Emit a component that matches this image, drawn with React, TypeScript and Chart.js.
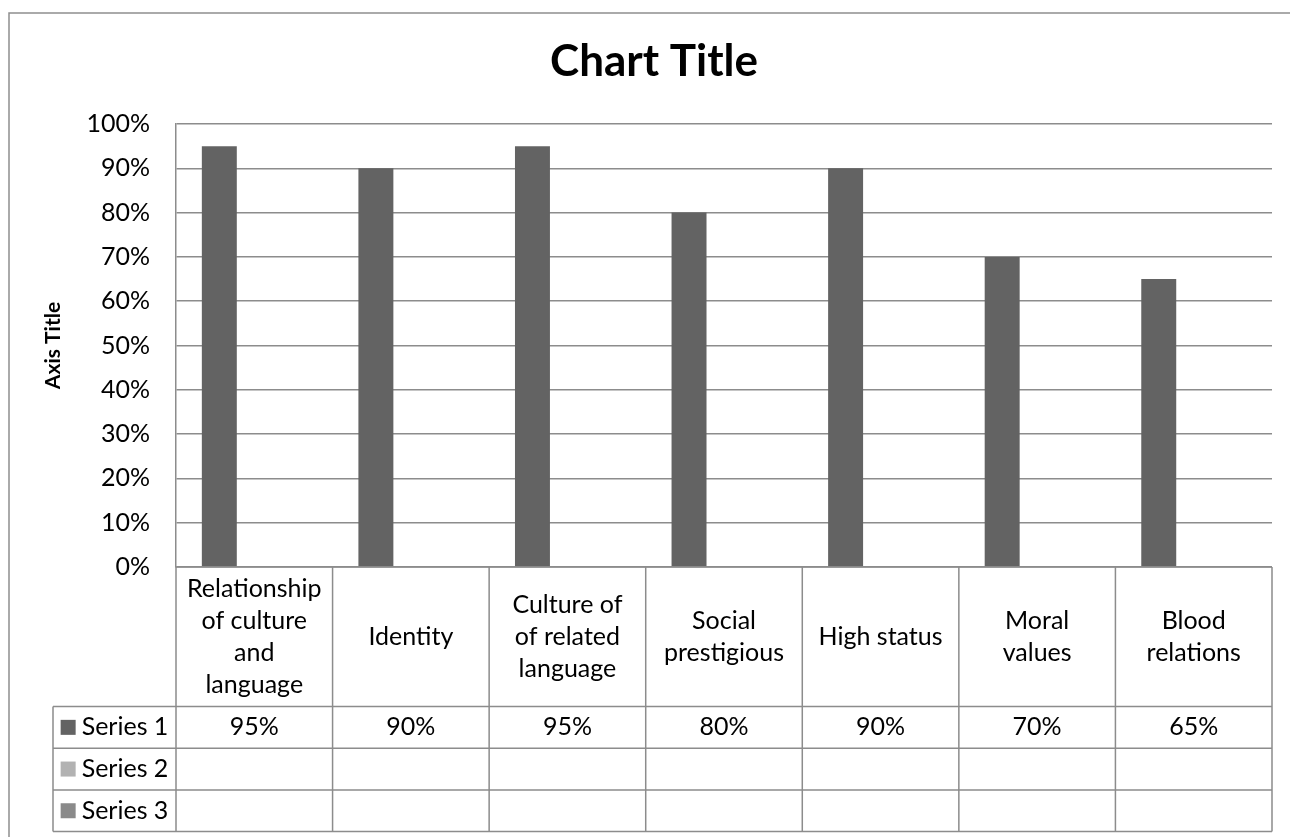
import React, { useEffect, useRef } from "react";
import { Chart, registerables } from "chart.js";

Chart.register(...registerables);

// ---- data ----
const categories: string[][] = [
  ["Relationship", "of culture", "and", "language"],
  ["Identity"],
  ["Culture of", "of related", "language"],
  ["Social", "prestigious"],
  ["High status"],
  ["Moral", "values"],
  ["Blood", "relations"],
];
const seriesNames: string[] = ["Series 1", "Series 2", "Series 3"];
const series1: (number | null)[] = [0.95, 0.9, 0.95, 0.8, 0.9, 0.7, 0.65];
const series2: (number | null)[] = [null, null, null, null, null, null, null];
const series3: (number | null)[] = [null, null, null, null, null, null, null];
const yTickLabels: string[] = ["0%", "10%", "20%", "30%", "40%", "50%", "60%", "70%", "80%", "90%", "100%"];

// ---- styles ----
const FONT = "Lato, 'Open Sans', sans-serif";
const GRID = "#8c8c8c";
const COLORS = ["#636363", "#b2b2b2", "#8a8a8a"];
const BODY_SIZE = 25;
const PAD_LEFT = 36;

const fmtPct = (v: number | null) => (v == null ? "" : Math.round(v * 100) + "%");

const tablePlugin = {
  id: "dataTable",
  afterDraw(chart: any) {
    const ctx: CanvasRenderingContext2D = chart.ctx;
    const area = chart.chartArea;
    const xs = chart.scales.x;
    const n = categories.length;
    const colW = (area.right - area.left) / n;
    const legendLeft = 53;
    const catH = 139.5;
    const rowH = 41.7;
    const r0 = area.bottom;
    const rows = [r0, r0 + catH, r0 + catH + rowH, r0 + catH + 2 * rowH, r0 + catH + 3 * rowH];
    const datasets = chart.data.datasets;

    ctx.save();
    ctx.strokeStyle = GRID;
    ctx.lineWidth = 1.5;
    ctx.beginPath();
    ctx.moveTo(area.left, rows[0]);
    ctx.lineTo(area.right, rows[0]);
    for (let r = 1; r < rows.length; r++) {
      ctx.moveTo(legendLeft, rows[r]);
      ctx.lineTo(area.right, rows[r]);
    }
    for (let i = 0; i <= n; i++) {
      const x = area.left + i * colW;
      ctx.moveTo(x, rows[0]);
      ctx.lineTo(x, rows[4]);
    }
    ctx.moveTo(legendLeft, rows[1]);
    ctx.lineTo(legendLeft, rows[4]);
    ctx.stroke();

    // category labels
    ctx.fillStyle = "#000";
    ctx.font = `${BODY_SIZE}px ${FONT}`;
    ctx.textAlign = "center";
    ctx.textBaseline = "middle";
    const lineH = 32.2;
    categories.forEach((lines, i) => {
      const cx = xs.getPixelForValue(i);
      const cy = (rows[0] + rows[1]) / 2;
      const start = cy - ((lines.length - 1) * lineH) / 2;
      lines.forEach((ln, j) => ctx.fillText(ln, cx, start + j * lineH));
    });

    // series rows
    datasets.forEach((ds: any, k: number) => {
      const cy = (rows[k + 1] + rows[k + 2]) / 2;
      ctx.font = `${BODY_SIZE}px ${FONT}`;
      const tw = ctx.measureText(ds.label).width;
      const key = 15;
      const gap = 6;
      const total = key + gap + tw;
      const sx = (legendLeft + area.left) / 2 - total / 2;
      ctx.fillStyle = ds.backgroundColor;
      ctx.fillRect(sx, cy - key / 2, key, key);
      ctx.fillStyle = "#000";
      ctx.textAlign = "left";
      ctx.fillText(ds.label, sx + key + gap, cy);
      ctx.textAlign = "center";
      (ds.data as (number | null)[]).forEach((v, i) => {
        const t = fmtPct(v);
        if (t) ctx.fillText(t, xs.getPixelForValue(i), cy);
      });
    });

    // outer frame
    ctx.strokeStyle = "#8e8e8e";
    ctx.lineWidth = 1.5;
    ctx.beginPath();
    ctx.moveTo(9, chart.height);
    ctx.lineTo(9, 13);
    ctx.lineTo(chart.width, 13);
    ctx.stroke();
    ctx.restore();
  },
};

export default function App() {
  const ref = useRef<HTMLCanvasElement | null>(null);

  useEffect(() => {
    if (!ref.current) return;
    const chart = new Chart(ref.current, {
      type: "bar",
      data: {
        labels: categories.map((c) => c.join(" ")),
        datasets: [
          { label: seriesNames[0], data: series1, backgroundColor: COLORS[0] },
          { label: seriesNames[1], data: series2, backgroundColor: COLORS[1] },
          { label: seriesNames[2], data: series3, backgroundColor: COLORS[2] },
        ],
      },
      options: {
        animation: false,
        responsive: false,
        devicePixelRatio: 1,
        layout: { padding: { top: 0, left: PAD_LEFT, right: 18, bottom: 0 } },
        datasets: { bar: { categoryPercentage: 0.67, barPercentage: 1 } },
        plugins: {
          legend: { display: false },
          tooltip: { enabled: false },
          title: {
            display: true,
            text: "Chart Title",
            color: "#000",
            font: { family: FONT, size: 44, weight: "bold", lineHeight: 1.2 },
            padding: { top: 35.5, bottom: 35.7 },
          },
        },
        scales: {
          x: {
            ticks: { display: false },
            grid: { display: false },
            border: { display: false },
            afterFit: (s: any) => {
              s.height = 270;
            },
          },
          y: {
            min: 0,
            max: 1,
            ticks: {
              stepSize: 0.1,
              padding: 26,
              color: "#000",
              font: { family: FONT, size: BODY_SIZE },
              callback: (_v: any, i: number) => yTickLabels[i],
            },
            grid: { color: GRID, lineWidth: 1.5, drawTicks: false },
            border: { color: GRID, width: 1.5 },
            title: {
              display: true,
              text: "Axis Title",
              color: "#000",
              font: { family: FONT, size: 21, weight: "bold", lineHeight: 1.2 },
              padding: { top: 41 - PAD_LEFT, bottom: 0 },
            },
            afterFit: (s: any) => {
              s.width = 176 - PAD_LEFT;
            },
          },
        },
      },
      plugins: [tablePlugin],
    });
    return () => chart.destroy();
  }, []);

  return (
    <div style={{ position: "absolute", left: 0, top: 0, width: 1290, height: 837, background: "#fff" }}>
      <canvas ref={ref} width={1290} height={837} style={{ display: "block" }} />
    </div>
  );
}
